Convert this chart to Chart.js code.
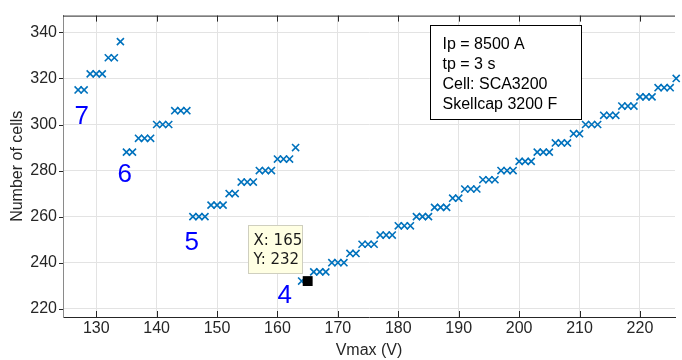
<!DOCTYPE html>
<html>
<head>
<meta charset="utf-8">
<script src="https://cdn.jsdelivr.net/npm/chart.js@4.4.1/dist/chart.umd.min.js"></script>
<style>
  html, body { margin: 0; padding: 0; background: #ffffff; overflow: hidden; }
  #wrap { width: 682px; height: 360px; position: relative; }
  canvas { display: block; }
</style>
</head>
<body>
<div id="wrap"><canvas id="c" width="682" height="360"></canvas></div>
<script>
// ---- data ----
const vmax7  = [127, 128, 129, 130, 131, 132, 133, 134];
const cells7 = [315, 315, 322, 322, 322, 329, 329, 336];

const vmax6  = [135, 136, 137, 138, 139, 140, 141, 142, 143, 144, 145];
const cells6 = [288, 288, 294, 294, 294, 300, 300, 300, 306, 306, 306];

const vmax5  = [146, 147, 148, 149, 150, 151, 152, 153, 154, 155, 156, 157, 158, 159, 160, 161, 162, 163];
const cells5 = [260, 260, 260, 265, 265, 265, 270, 270, 275, 275, 275, 280, 280, 280, 285, 285, 285, 290];

const vmax4  = [164, 165, 166, 167, 168, 169, 170, 171, 172, 173, 174, 175, 176, 177, 178, 179, 180, 181, 182,
                183, 184, 185, 186, 187, 188, 189, 190, 191, 192, 193, 194, 195, 196, 197, 198, 199, 200, 201,
                202, 203, 204, 205, 206, 207, 208, 209, 210, 211, 212, 213, 214, 215, 216, 217, 218, 219, 220,
                221, 222, 223, 224, 225, 226];
const cells4 = [232, 232, 236, 236, 236, 240, 240, 240, 244, 244, 248, 248, 248, 252, 252, 252, 256, 256, 256,
                260, 260, 260, 264, 264, 264, 268, 268, 272, 272, 272, 276, 276, 276, 280, 280, 280, 284, 284,
                284, 288, 288, 288, 292, 292, 292, 296, 296, 300, 300, 300, 304, 304, 304, 308, 308, 308, 312,
                312, 312, 316, 316, 316, 320];

const xTicks = [130, 140, 150, 160, 170, 180, 190, 200, 210, 220];
const yTicks = [220, 240, 260, 280, 300, 320, 340];

const groupLabels = ['7', '6', '5', '4'];
const groupLabelX = [127.6, 134.7, 145.8, 161.2];
const groupLabelY = [303.5, 278.2, 248.8, 225.8];

const tipX = 165;
const tipY = 232;

const infoLines = ['Ip = 8500 A', 'tp = 3 s', 'Cell: SCA3200', 'Skellcap 3200 F'];

// ---- build ----
function pts(xs, ys) { return xs.map((x, i) => ({ x: x, y: ys[i] })); }
const allPts = [].concat(pts(vmax7, cells7), pts(vmax6, cells6), pts(vmax5, cells5), pts(vmax4, cells4));

const AX = '#262626';
const FONT = '"Liberation Sans", Arial, sans-serif';

const framePlugin = {
  id: 'frame',
  beforeDatasetsDraw(chart) {
    const { ctx, chartArea: a, scales: { x, y } } = chart;
    ctx.save();
    ctx.strokeStyle = AX;
    ctx.lineWidth = 1;
    ctx.beginPath();
    // top border
    ctx.moveTo(a.left, a.top + 0.5); ctx.lineTo(a.right, a.top + 0.5);
    // x ticks inward (top and bottom)
    xTicks.forEach(v => {
      const px = Math.round(x.getPixelForValue(v)) + 0.5;
      ctx.moveTo(px, a.bottom); ctx.lineTo(px, a.bottom - 6);
      ctx.moveTo(px, a.top); ctx.lineTo(px, a.top + 6);
    });
    // y ticks
    yTicks.forEach(v => {
      const py = Math.round(y.getPixelForValue(v)) + 0.5;
      ctx.moveTo(a.left - 4, py); ctx.lineTo(a.left, py);
    });
    ctx.stroke();
    ctx.restore();
  },
  afterDraw(chart) {
    const { ctx, chartArea: a, scales: { x, y } } = chart;
    ctx.save();
    // group labels
    ctx.fillStyle = '#0000ff';
    ctx.font = '26px ' + FONT;
    ctx.textAlign = 'center';
    ctx.textBaseline = 'middle';
    groupLabels.forEach((t, i) => {
      ctx.fillText(t, x.getPixelForValue(groupLabelX[i]), y.getPixelForValue(groupLabelY[i]));
    });

    // data tip
    const px = x.getPixelForValue(tipX), py = y.getPixelForValue(tipY);
    const bx = Math.round(px - 60) + 0.5, by = Math.round(py - 56) + 0.5, bw = 54, bh = 48;
    ctx.fillStyle = '#ffffe3';
    ctx.strokeStyle = '#cfcfbf';
    ctx.lineWidth = 1;
    ctx.fillRect(bx, by, bw, bh);
    ctx.strokeRect(bx, by, bw, bh);
    ctx.fillStyle = '#1a1a1a';
    ctx.font = '15px "DejaVu Sans", Verdana, sans-serif';
    ctx.textAlign = 'left';
    ctx.textBaseline = 'middle';
    ctx.fillText('X: ' + tipX, bx + 5, by + 16);
    ctx.fillText('Y: ' + tipY, bx + 5, by + 35);

    // info box
    const ix = 430.5, iy = 25.5, iw = 151, ih = 94;
    ctx.fillStyle = '#ffffff';
    ctx.fillRect(ix, iy, iw, ih);
    ctx.strokeStyle = '#000000';
    ctx.strokeRect(ix, iy, iw, ih);
    ctx.fillStyle = '#000000';
    ctx.font = '16px ' + FONT;
    infoLines.forEach((t, i) => ctx.fillText(t, ix + 12, iy + 19 + i * 20));
    ctx.restore();
  }
};

new Chart(document.getElementById('c'), {
  type: 'scatter',
  data: {
    datasets: [
      {
        data: [{ x: tipX, y: tipY }],
        pointStyle: 'rect',
        pointRadius: 7,
        backgroundColor: '#000000',
        borderColor: '#000000',
        borderWidth: 0,
        clip: false,
        order: 0
      },
      {
        data: allPts,
        pointStyle: 'crossRot',
        pointRadius: 5,
        borderColor: '#0072bd',
        backgroundColor: '#0072bd',
        borderWidth: 1.6,
        clip: false,
        order: 1
      }
    ]
  },
  options: {
    responsive: false,
    devicePixelRatio: 1,
    animation: false,
    events: [],
    layout: { padding: { left: 0, right: 0, top: 9, bottom: 0 } },
    plugins: { legend: { display: false }, tooltip: { enabled: false } },
    scales: {
      x: {
        type: 'linear',
        min: 124.5,
        max: 225.8,
        afterBuildTicks: s => { s.ticks = xTicks.map(v => ({ value: v })); },
        afterFit: s => { s.height = 43; },
        grid: { color: '#e3e3e3', drawTicks: false },
        border: { display: true, color: AX, width: 1 },
        ticks: { color: AX, font: { family: FONT, size: 16 }, padding: 2, maxRotation: 0, autoSkip: false },
        title: { display: true, text: 'Vmax (V)', color: AX, font: { family: FONT, size: 16 }, padding: { top: 2, bottom: 0 } }
      },
      y: {
        type: 'linear',
        min: 216.4,
        max: 347.3,
        afterBuildTicks: s => { s.ticks = yTicks.map(v => ({ value: v })); },
        afterFit: s => { s.width = 63; },
        grid: { color: '#e3e3e3', drawTicks: false },
        border: { display: true, color: '#8a8a8a', width: 1 },
        ticks: { color: AX, font: { family: FONT, size: 16 }, padding: 6, autoSkip: false },
        title: { display: true, text: 'Number of cells', color: AX, font: { family: FONT, size: 16 }, padding: { top: 8, bottom: 0 } }
      }
    }
  },
  plugins: [framePlugin]
});
</script>
</body>
</html>
